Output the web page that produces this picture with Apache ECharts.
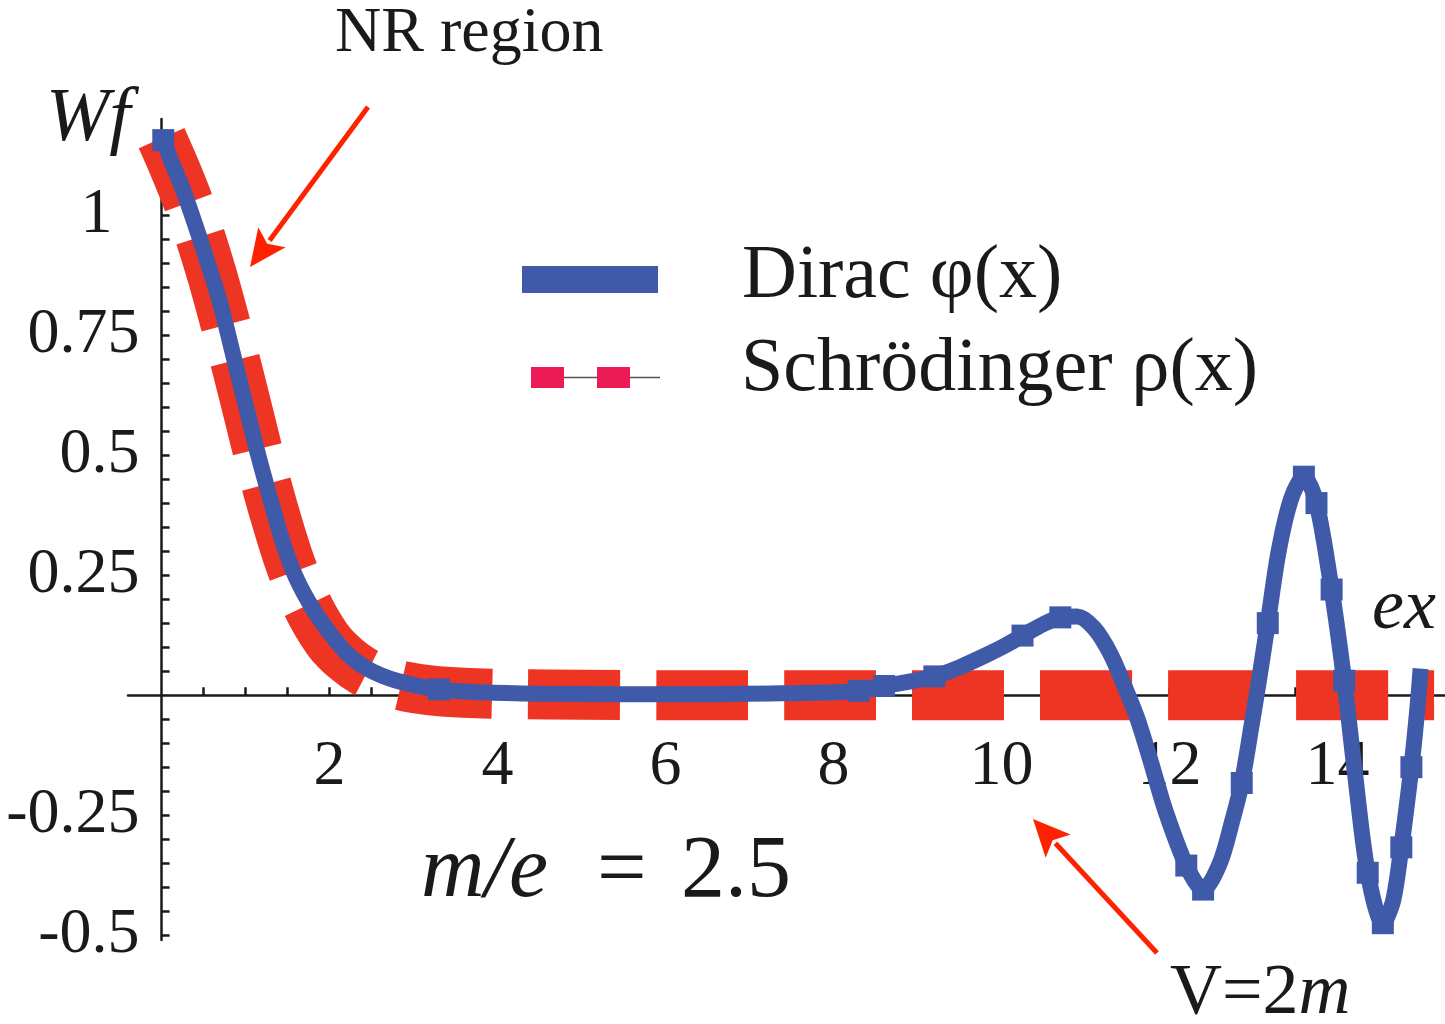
<!DOCTYPE html>
<html>
<head>
<meta charset="utf-8">
<title>Dirac vs Schrödinger, m/e = 2.5</title>
<script src="https://cdn.jsdelivr.net/npm/echarts@6/dist/echarts.min.js"></script>
<style>
html, body { margin: 0; padding: 0; background: #fff; }
#chart { width: 1445px; height: 1024px; }
</style>
</head>
<body>
<div id="chart"></div>
<script>
// Dirac φ(x)
const diracX = [0.02, 0.12, 0.25, 0.4, 0.55, 0.7, 0.85, 1.0, 1.15, 1.3, 1.45, 1.6, 1.8, 2.0, 2.2, 2.45, 2.8, 3.3, 3.8, 4.5,
    5.5, 6.5, 7.5, 8.0, 8.3, 8.6, 8.9, 9.2, 9.5, 9.8, 10.05, 10.25, 10.5, 10.7, 10.9, 11.1, 11.3, 11.48, 11.62, 11.78,
    11.95, 12.2, 12.4, 12.6, 12.75, 12.86, 12.98, 13.06, 13.17, 13.3, 13.45, 13.6, 13.75, 13.93, 14.08, 14.2, 14.36, 14.54, 14.66, 14.76,
    14.88, 14.95, 14.99]
const diracY = [1.156, 1.11, 1.055, 0.98, 0.9, 0.815, 0.71, 0.605, 0.5, 0.405, 0.315, 0.245, 0.18, 0.13, 0.088, 0.055, 0.03, 0.012, 0.006, 0.003,
    0.002, 0.002, 0.004, 0.006, 0.009, 0.019, 0.028, 0.039, 0.058, 0.082, 0.104, 0.124, 0.148, 0.162, 0.164, 0.14, 0.085, 0.012, -0.05, -0.14,
    -0.24, -0.355, -0.405, -0.35, -0.26, -0.183, -0.06, 0.025, 0.15, 0.30, 0.41, 0.455, 0.40, 0.22, 0.03, -0.15, -0.37, -0.475, -0.43, -0.317,
    -0.15, -0.03, 0.055]
// x of the little square nodes drawn on the blue curve
const diracMarkX = [0.02, 3.3, 8.3, 8.6, 9.2, 10.25, 10.7, 12.2, 12.4, 12.86, 13.17, 13.6, 13.75, 13.93, 14.08, 14.36, 14.54, 14.76, 14.88]

// Schrödinger ρ(x)
const schX = [0, 0.15, 0.3, 0.45, 0.6, 0.75, 0.9, 1.05, 1.2, 1.35, 1.5, 1.65, 1.8, 2.0, 2.2, 2.4, 2.65, 2.9, 3.2, 3.6,
    4.2, 5, 6, 8, 10, 12, 14, 15.15]
const schY = [1.16, 1.1, 1.035, 0.96, 0.875, 0.78, 0.68, 0.575, 0.47, 0.375, 0.29, 0.22, 0.165, 0.11, 0.075, 0.05, 0.03, 0.018, 0.01, 0.005,
    0.002, 0.001, 0, 0, 0, 0, 0, 0]

// tick labels
const xLabels = [2, 4, 6, 8, 10, 12, 14]
const yLabels = [-0.5, -0.25, 0.25, 0.5, 0.75, 1]

// minor ticks: every 0.5 on x, every 0.05 on y
const xTicks = []
for (let i = 1; i <= 30; i++) xTicks.push(i / 2)
const yTicks = []
for (let i = -10; i <= 23; i++) if (i !== 0) yTicks.push(i / 20)

const serif = '"Liberation Serif", "DejaVu Serif", serif'
const ink = '#1a1a1a'
const blue = '#3F5AA8'
const red = '#EE3524'
const arrowRed = '#FF2200'

// grid box and ranges; the axes sit on the zero lines, moved in by offset
const gridLeft = 128, gridTop = 119, gridBottom = 84
const xMin = -0.4, xMax = 15.28, yMin = -0.51, yMax = 1.2
const pxPerX = (1445 - gridLeft) / (xMax - xMin)
const pxPerY = (1024 - gridTop - gridBottom) / (yMax - yMin)

const chart = echarts.init(document.getElementById('chart'))

// text placed by its baseline (zrender has only top/middle/bottom)
const txt = (x, base, size, text, italic) => ({
    type: 'text',
    x: x,
    y: base - size * 0.33,
    style: {
        text: text,
        fill: ink,
        font: (italic ? 'italic ' : '') + size + 'px ' + serif,
        verticalAlign: 'middle'
    }
})

// straight arrow from tail to tip
const arrow = (x1, y1, x2, y2) => {
    const dx = x2 - x1, dy = y2 - y1
    const len = Math.sqrt(dx * dx + dy * dy)
    const ux = dx / len, uy = dy / len
    const head = 37, half = 17
    const bx = x2 - ux * head, by = y2 - uy * head
    return [{
        type: 'line',
        shape: { x1: x1, y1: y1, x2: bx + ux * 4, y2: by + uy * 4 },
        style: { stroke: arrowRed, lineWidth: 5 }
    }, {
        type: 'polygon',
        shape: { points: [[x2, y2], [bx - uy * half, by + ux * half], [bx + ux * 8, by + uy * 8], [bx + uy * half, by - ux * half]] },
        style: { fill: arrowRed }
    }]
}

const option = {
    animation: false,
    backgroundColor: '#fff',
    grid: { left: gridLeft, right: 0, top: gridTop, bottom: gridBottom, outerBoundsMode: 'none', containLabel: false },
    xAxis: {
        type: 'value',
        min: xMin,
        max: xMax,
        position: 'bottom',
        offset: -(0 - yMin) * pxPerY,
        axisLine: { onZero: false, lineStyle: { color: ink, width: 2.5 } },
        axisTick: { inside: true, length: 8, customValues: xTicks, lineStyle: { color: ink, width: 2.5 } },
        axisLabel: {
            customValues: xLabels,
            margin: 40,
            color: ink,
            fontFamily: serif,
            fontSize: 64
        },
        splitLine: { show: false }
    },
    yAxis: {
        type: 'value',
        min: yMin,
        max: yMax,
        position: 'left',
        offset: -(0 - xMin) * pxPerX,
        axisLine: { onZero: false, lineStyle: { color: ink, width: 2.5 } },
        axisTick: { inside: true, length: 8, customValues: yTicks, lineStyle: { color: ink, width: 2.5 } },
        axisLabel: {
            customValues: yLabels,
            margin: 22,
            color: ink,
            fontFamily: serif,
            fontSize: 64,
            formatter: v => (v === 1 ? '{one|1}' : String(v)),
            rich: { one: { fontFamily: serif, fontSize: 64, color: ink, padding: [0, 27, 0, 0] } }
        },
        splitLine: { show: false }
    },
    series: [{
        name: 'Schrödinger ρ(x)',
        type: 'line',
        data: schX.map((x, i) => [x, schY[i]]),
        showSymbol: false,
        smooth: 0.3,
        clip: false,
        z: 2,
        lineStyle: { color: red, width: 50, type: [92, 36], dashOffset: 22, cap: 'butt' }
    }, {
        name: 'Dirac φ(x)',
        type: 'line',
        data: diracX.map((x, i) => [x, diracY[i]]),
        symbol: 'rect',
        symbolSize: v => (diracMarkX.includes(v[0]) ? 22 : 0),
        showSymbol: true,
        showAllSymbol: true,
        smooth: 0.3,
        clip: false,
        z: 3,
        itemStyle: { color: blue },
        lineStyle: { color: blue, width: 16 }
    }],
    graphic: [
        // legend
        { type: 'rect', shape: { x: 522, y: 266, width: 136, height: 27 }, style: { fill: blue } },
        { type: 'line', shape: { x1: 531, y1: 377.5, x2: 660, y2: 377.5 }, style: { stroke: '#555', lineWidth: 1.3 } },
        { type: 'rect', shape: { x: 531, y: 367, width: 33, height: 21 }, style: { fill: '#EC1A55' } },
        { type: 'rect', shape: { x: 597, y: 367, width: 33, height: 21 }, style: { fill: '#EC1A55' } },
        txt(742, 302, 76, 'Dirac φ(x)'),
        txt(741, 395, 76, 'Schrödinger ρ(x)'),
        // axis names
        txt(46, 145, 76, 'Wf', true),
        txt(1372, 633, 72, 'ex', true),
        // notes
        txt(335, 55, 64, 'NR region'),
        txt(1170, 1018, 72, 'V=2'),
        txt(1170 + 72 * 1.786, 1018, 72, 'm', true),
        txt(421, 902, 88, 'm/e', true),
        txt(597, 902, 88, '='),
        txt(681, 902, 88, '2.5'),
        ...arrow(368, 107, 250, 267),
        ...arrow(1157, 953, 1033, 819)
    ]
}

chart.setOption(option)
window.addEventListener('resize', () => chart.resize())
</script>
</body>
</html>
